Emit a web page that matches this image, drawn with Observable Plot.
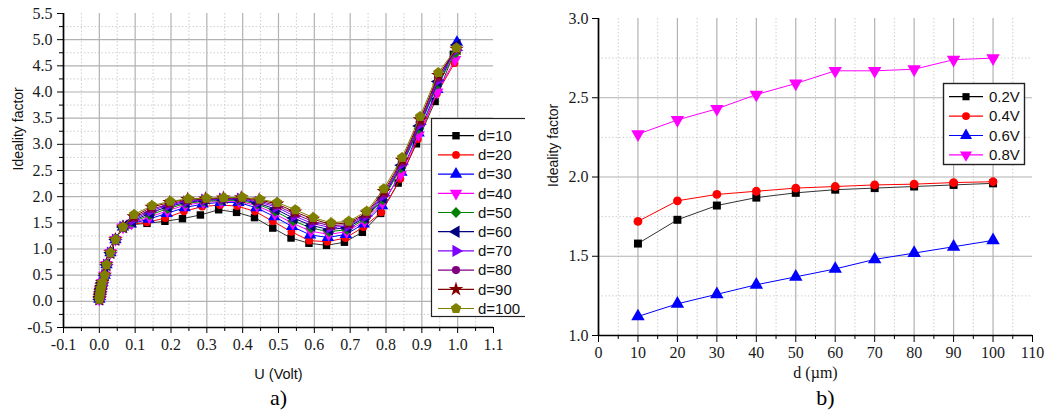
<!DOCTYPE html>
<html><head><meta charset="utf-8">
<script src="https://cdn.jsdelivr.net/npm/d3@7"></script>
<script src="https://cdn.jsdelivr.net/npm/@observablehq/plot@0.6"></script>
<style>
html,body{margin:0;padding:0;background:#fff;}
#root{position:relative;width:1046px;height:416px;overflow:hidden;background:#fff;}
#panelA{position:absolute;left:0;top:0;width:525px;height:416px;overflow:hidden;}
#panelB{position:absolute;left:530px;top:0;width:516px;height:416px;overflow:hidden;}
#panelA svg,#panelB svg{position:absolute;left:0;top:0;}
</style></head><body><div id="root"><div id="panelA"></div><div id="panelB"></div></div>
<script>
// ---------- Panel a) data ----------
const seriesA = ["d=10","d=20","d=30","d=40","d=50","d=60","d=70","d=80","d=90","d=100"];
// low-voltage part, common to all curves
const rampU = [0.000,0.001,0.002,0.003,0.004,0.006,0.008,0.015,0.020,0.031,0.045,0.066];
const rampV = [0.04,0.09,0.14,0.19,0.24,0.30,0.36,0.50,0.70,0.93,1.18,1.42];
const d10U  = [0.083,0.133,0.183,0.232,0.282,0.333,0.383,0.433,0.484,0.535,0.585,0.634,0.684,0.734,0.785,0.834,0.885,0.937,0.988];
const d10V  = [1.46,1.49,1.53,1.58,1.65,1.75,1.70,1.60,1.40,1.21,1.11,1.07,1.13,1.32,1.68,2.26,3.01,3.82,4.72];
const d20U  = [0.085,0.133,0.184,0.236,0.287,0.337,0.385,0.434,0.484,0.536,0.586,0.636,0.687,0.737,0.787,0.840,0.889,0.942,0.991];
const d20V  = [1.47,1.51,1.59,1.72,1.81,1.84,1.82,1.72,1.53,1.33,1.16,1.14,1.21,1.42,1.70,2.34,3.10,3.97,4.55];
const d30U  = [0.088,0.138,0.188,0.238,0.288,0.338,0.388,0.438,0.488,0.538,0.588,0.638,0.688,0.738,0.789,0.843,0.891,0.943,0.998];
const d30V  = [1.48,1.57,1.68,1.79,1.86,1.89,1.89,1.79,1.62,1.43,1.27,1.22,1.28,1.48,1.83,2.47,3.22,4.05,4.95];
const d40U  = [0.090,0.140,0.190,0.240,0.290,0.340,0.390,0.440,0.490,0.540,0.590,0.640,0.690,0.740,0.790,0.841,0.891,0.943,0.993];
const d40V  = [1.49,1.61,1.73,1.84,1.89,1.91,1.91,1.83,1.67,1.49,1.34,1.28,1.33,1.53,1.88,2.42,3.18,4.00,4.62];
const d50U  = [0.091,0.141,0.191,0.241,0.291,0.341,0.391,0.441,0.491,0.541,0.591,0.641,0.691,0.741,0.791,0.842,0.892,0.944,0.995];
const d50V  = [1.51,1.65,1.77,1.87,1.91,1.93,1.93,1.86,1.72,1.54,1.40,1.33,1.37,1.57,1.94,2.55,3.30,4.15,4.75];
const d60U  = [0.092,0.142,0.192,0.242,0.292,0.342,0.392,0.442,0.492,0.542,0.592,0.642,0.692,0.742,0.792,0.843,0.893,0.945,0.998];
const d60V  = [1.53,1.69,1.81,1.89,1.93,1.95,1.95,1.88,1.76,1.59,1.45,1.37,1.41,1.60,1.98,2.60,3.35,4.20,4.90];
const d70U  = [0.094,0.144,0.194,0.244,0.294,0.344,0.394,0.444,0.494,0.544,0.594,0.644,0.694,0.744,0.793,0.844,0.894,0.945,0.996];
const d70V  = [1.56,1.73,1.84,1.91,1.94,1.96,1.96,1.90,1.80,1.63,1.49,1.41,1.44,1.63,2.02,2.62,3.38,4.22,4.80];
const d80U  = [0.095,0.145,0.195,0.245,0.295,0.345,0.395,0.445,0.495,0.545,0.595,0.645,0.695,0.745,0.794,0.844,0.894,0.945,0.996];
const d80V  = [1.59,1.76,1.86,1.93,1.95,1.97,1.97,1.92,1.83,1.67,1.53,1.44,1.47,1.66,2.06,2.66,3.42,4.27,4.85];
const d90U  = [0.096,0.146,0.196,0.246,0.296,0.346,0.396,0.446,0.496,0.546,0.596,0.646,0.696,0.746,0.794,0.845,0.895,0.946,0.997];
const d90V  = [1.62,1.80,1.89,1.95,1.96,1.975,1.98,1.94,1.86,1.71,1.57,1.47,1.50,1.69,2.10,2.70,3.47,4.32,4.82];
const d100U = [0.097,0.147,0.198,0.248,0.299,0.347,0.399,0.448,0.496,0.547,0.597,0.647,0.696,0.746,0.794,0.845,0.895,0.946,0.997];
const d100V = [1.66,1.83,1.91,1.96,1.97,1.98,1.99,1.95,1.89,1.75,1.60,1.50,1.53,1.72,2.15,2.75,3.53,4.37,4.84];
const xTicksA = [-0.1,0.0,0.1,0.2,0.3,0.4,0.5,0.6,0.7,0.8,0.9,1.0,1.1];
const yTicksA = [-0.5,0.0,0.5,1.0,1.5,2.0,2.5,3.0,3.5,4.0,4.5,5.0,5.5];

// ---------- Panel b) data ----------
const seriesB = ["0.2V","0.4V","0.6V","0.8V"];
const dB   = [10,20,30,40,50,60,70,80,90,100];
const v02  = [1.58,1.73,1.82,1.87,1.90,1.92,1.93,1.94,1.95,1.96];
const v04  = [1.72,1.85,1.89,1.91,1.93,1.94,1.95,1.955,1.965,1.97];
const v06  = [1.12,1.20,1.26,1.32,1.37,1.42,1.48,1.52,1.56,1.60];
const v08  = [2.27,2.36,2.43,2.52,2.59,2.67,2.67,2.68,2.74,2.75];
const xTicksB = [0,10,20,30,40,50,60,70,80,90,100,110];
const yTicksB = [1.0,1.5,2.0,2.5,3.0];

// ---------- symbols ----------
function triPath(ctx, size, dir){
  const s = Math.sqrt(size*4/Math.sqrt(3)), h = s*Math.sqrt(3)/2;
  const p = [[0,-2*h/3],[s/2,h/3],[-s/2,h/3]]; // up
  const rot = {up:0, down:Math.PI, left:-Math.PI/2, right:Math.PI/2}[dir];
  p.forEach(([x,y],i)=>{const X=x*Math.cos(rot)-y*Math.sin(rot), Y=x*Math.sin(rot)+y*Math.cos(rot); i?ctx.lineTo(X,Y):ctx.moveTo(X,Y);});
  ctx.closePath();
}
const symTriUp = {draw(c,s){triPath(c,s,"up");}};
const symTriDown = {draw(c,s){triPath(c,s,"down");}};
const symTriLeft = {draw(c,s){triPath(c,s,"left");}};
const symTriRight = {draw(c,s){triPath(c,s,"right");}};
const symDiamond = {draw(c,s){const r=Math.sqrt(s/2); c.moveTo(0,-r);c.lineTo(r,0);c.lineTo(0,r);c.lineTo(-r,0);c.closePath();}};
const symPentagon = {draw(c,s){const R=Math.sqrt(2*s/(5*Math.sin(2*Math.PI/5))); for(let k=0;k<5;k++){const a=-Math.PI/2+k*2*Math.PI/5; k?c.lineTo(R*Math.cos(a),R*Math.sin(a)):c.moveTo(R*Math.cos(a),R*Math.sin(a));} c.closePath();}};

const styleA = [
  {color:"#000000", sym:d3.symbolSquare, r:4.2},
  {color:"#ff0000", sym:d3.symbolCircle, r:3.9},
  {color:"#0000ff", sym:symTriUp, r:4.6},
  {color:"#ff00ff", sym:symTriDown, r:4.6},
  {color:"#008000", sym:symDiamond, r:4.3},
  {color:"#000080", sym:symTriLeft, r:4.6},
  {color:"#8000ff", sym:symTriRight, r:4.6},
  {color:"#800080", sym:d3.symbolCircle, r:4.1},
  {color:"#800000", sym:d3.symbolStar, r:4.6},
  {color:"#808000", sym:symPentagon, r:4.8}
];
const styleB = [
  {color:"#000000", sym:d3.symbolSquare, r:4.5},
  {color:"#ff0000", sym:d3.symbolCircle, r:4.4},
  {color:"#0000ff", sym:symTriUp, r:5.0},
  {color:"#ff00ff", sym:symTriDown, r:5.0}
];

const serif = "'Liberation Serif','Times New Roman',serif";
const sans = "'Liberation Sans',Arial,sans-serif";
const fmt1 = d => d.toFixed(1);
const half = (a) => a.slice(0,-1).map((v,i)=>(v+a[i+1])/2);

// ---------- Panel a) ----------
const rowsA = [
  [d10U,d10V],[d20U,d20V],[d30U,d30V],[d40U,d40V],[d50U,d50V],
  [d60U,d60V],[d70U,d70V],[d80U,d80V],[d90U,d90V],[d100U,d100V]
].map(([U,V],i) => rampU.concat(U).map((u,j)=>({s:seriesA[i], u, v: rampV.concat(V)[j]})));

const gridMaj = {stroke:"#b2b2b2", strokeWidth:1.2};
const gridMin = {stroke:"#cfcfcf", strokeWidth:1, strokeDasharray:"1.5,2"};

const marksA = [
  Plot.ruleX(half(xTicksA), gridMin),
  Plot.ruleY(half(yTicksA), gridMin),
  Plot.ruleX(xTicksA.slice(1,-1), gridMaj),
  Plot.ruleY(yTicksA.slice(1,-1), gridMaj),
  Plot.axisX(half(xTicksA), {tickSize:4, tickFormat:()=> "", stroke:"#000", label:null}),
  Plot.axisX(xTicksA, {tickSize:6, tickPadding:5, tickFormat:fmt1, stroke:"#000", fill:"#1a1a1a", fontFamily:serif, fontSize:16, label:null}),
  Plot.axisY(half(yTicksA), {tickSize:4, tickFormat:()=> "", stroke:"#000", label:null}),
  Plot.axisY(yTicksA, {tickSize:6, tickPadding:5, tickFormat:fmt1, stroke:"#000", fill:"#1a1a1a", fontFamily:serif, fontSize:16, label:null}),
  Plot.ruleX([-0.1], {stroke:"#000", strokeWidth:1.7}),
  Plot.ruleY([-0.5], {stroke:"#000", strokeWidth:1.7}),
  ...rowsA.flatMap((rows,i) => [
    Plot.line(rows, {x:"u", y:"v", stroke: i===0 ? "#333" : styleA[i].color, strokeWidth:1}),
    Plot.dot(rows, {x:"u", y:"v", fill: styleA[i].color, stroke:"none", symbol: styleA[i].sym, r: styleA[i].r})
  ]),
  Plot.text(["U (Volt)"], {frameAnchor:"bottom", dy:51, fontFamily:sans, fontSize:14.5, fill:"#111"}),
  Plot.text(["a)"], {frameAnchor:"bottom", dy:77, fontFamily:serif, fontSize:22, fill:"#000"}),
  Plot.text(["Ideality factor"], {frameAnchor:"left", dx:-45, rotate:-90, fontFamily:sans, fontSize:14, fill:"#111"})
];

const plotA = Plot.plot({
  width:519, height:416, marginLeft:63, marginRight:26, marginTop:13, marginBottom:89,
  style:{background:"transparent", overflow:"visible"},
  x:{domain:[-0.1,1.1]}, y:{domain:[-0.5,5.5]},
  marks: marksA
});
document.getElementById("panelA").appendChild(plotA);

// legend a)
(function(){
  const svg = d3.select("#panelA").append("svg").attr("width",525).attr("height",416).style("pointer-events","none");
  svg.append("rect").attr("x",431.5).attr("y",118.5).attr("width",120).attr("height",198)
     .attr("fill","#fff").attr("stroke","#222").attr("stroke-width",1.2);
  seriesA.forEach((name,i)=>{
    const y = 135.7 + i*19.2, st = styleA[i];
    svg.append("line").attr("x1",438).attr("x2",474).attr("y1",y).attr("y2",y).attr("stroke",st.color).attr("stroke-width",1.2);
    svg.append("path").attr("d", d3.symbol(st.sym, Math.PI*st.r*st.r)()).attr("transform",`translate(456,${y})`).attr("fill",st.color);
    svg.append("text").attr("x",478).attr("y",y).attr("dy","0.35em").attr("font-family",sans).attr("font-size",15).attr("fill","#111").text(name);
  });
})();

// ---------- Panel b) ----------
const rowsB = [v02,v04,v06,v08].map((V,i)=> dB.map((d,j)=>({s:seriesB[i], d, v:V[j]})));
const marksB = [
  Plot.ruleX(half(xTicksB), gridMin),
  Plot.ruleY(half(yTicksB), gridMin),
  Plot.ruleX(xTicksB.slice(1,-1), gridMaj),
  Plot.ruleY(yTicksB.slice(1,-1), gridMaj),
  Plot.axisX(half(xTicksB), {tickSize:4, tickFormat:()=> "", stroke:"#000", label:null}),
  Plot.axisX(xTicksB, {tickSize:7, tickPadding:4, tickFormat:d=>String(d), stroke:"#000", fill:"#1a1a1a", fontFamily:serif, fontSize:16, label:null}),
  Plot.axisY(yTicksB, {tickSize:6, tickPadding:4, tickFormat:fmt1, stroke:"#000", fill:"#1a1a1a", fontFamily:serif, fontSize:16, label:null}),
  Plot.ruleX([0], {stroke:"#000", strokeWidth:1.7}),
  Plot.ruleY([1], {stroke:"#000", strokeWidth:1.7}),
  ...rowsB.flatMap((rows,i)=>[
    Plot.line(rows, {x:"d", y:"v", stroke: i===0 ? "#333" : styleB[i].color, strokeWidth:1}),
    Plot.dot(rows, {x:"d", y:"v", fill: styleB[i].color, stroke:"none", symbol: styleB[i].sym, r: styleB[i].r})
  ]),
  Plot.text(["d (\u00b5m)"], {frameAnchor:"bottom", dy:42, fontFamily:serif, fontSize:16, fill:"#111"}),
  Plot.text(["b)"], {frameAnchor:"bottom", dx:10, dy:69, fontFamily:serif, fontSize:22, fill:"#000"}),
  Plot.text(["Ideality factor"], {frameAnchor:"left", dx:-45, dy:10, rotate:-90, fontFamily:sans, fontSize:14, fill:"#111"})
];
const plotB = Plot.plot({
  width:516, height:416, marginLeft:68, marginRight:14, marginTop:18, marginBottom:81,
  style:{background:"transparent", overflow:"visible"},
  x:{domain:[0,110]}, y:{domain:[1,3]},
  marks: marksB
});
document.getElementById("panelB").appendChild(plotB);

// legend b)
(function(){
  const svg = d3.select("#panelB").append("svg").attr("width",516).attr("height",416).style("pointer-events","none");
  svg.append("rect").attr("x",413.5).attr("y",83.5).attr("width",81).attr("height",81)
     .attr("fill","#fff").attr("stroke","#222").attr("stroke-width",1.4);
  seriesB.forEach((name,i)=>{
    const y = 96.7 + i*19.4, st = styleB[i];
    svg.append("line").attr("x1",419).attr("x2",453).attr("y1",y).attr("y2",y).attr("stroke",st.color).attr("stroke-width",1.2);
    svg.append("path").attr("d", d3.symbol(st.sym, Math.PI*st.r*st.r*0.8)()).attr("transform",`translate(436,${y})`).attr("fill",st.color);
    svg.append("text").attr("x",459).attr("y",y).attr("dy","0.35em").attr("font-family",sans).attr("font-size",15).attr("fill","#111").text(name);
  });
})();
</script></body></html>
